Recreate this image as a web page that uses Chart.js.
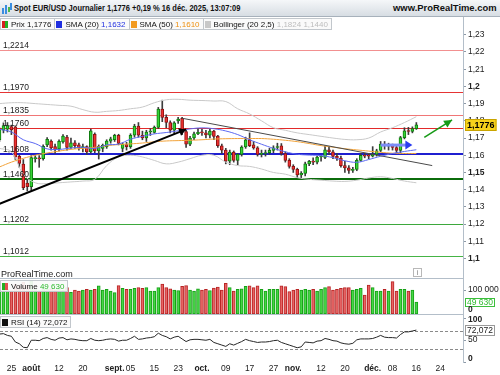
<!DOCTYPE html>
<html lang="fr">
<head>
<meta charset="UTF-8">
<title>Spot EUR/USD Journalier</title>
<script src="https://cdn.jsdelivr.net/npm/chart.js@4/dist/chart.umd.min.js"></script>
<style>
  body { margin: 0; background: #fff; font-family: "Liberation Sans", Arial, sans-serif; }
  #wrap { position: relative; width: 500px; height: 375px; overflow: hidden; background: #fff; }
  #wrap canvas { position: absolute; left: 0; }
  #title { position: absolute; left: 0; top: 0; width: 500px; height: 17px; box-sizing: border-box;
    background: linear-gradient(#f5f7f9, #d7dde3); border-bottom: 1px solid #a7b1bb; }
  #title b { position: absolute; top: 2px; font-size: 9.5px; color: #111; white-space: nowrap; }
  .lg { position: absolute; left: 0; display: flex; font-size: 8px; color: #111; }
  .lg span { display: flex; align-items: center; height: 10px; padding: 0 3px 0 1px; border: 1px solid #c2c7cc;
    background: rgba(250,250,250,.92); margin-right: -1px; white-space: nowrap; }
  .lg i { display: inline-block; width: 6px; height: 7px; margin-right: 3px; }
  .sep { position: absolute; background: #b3bec9; }
  .txt { position: absolute; font-size: 9px; color: #222; white-space: nowrap; }
</style>
</head>
<body>
<div id="wrap">
  <div id="title">
    <svg style="position:absolute;left:2px;top:3px" width="10" height="11">
      <rect x="0" y="5" width="2" height="6" fill="#3a8de0"/><rect x="3" y="2" width="2" height="9" fill="#3a8de0"/>
      <rect x="6" y="4" width="2" height="5" fill="#4cb84c"/><rect x="8" y="0" width="2" height="7" fill="#3a8de0"/>
    </svg>
    <b style="left:14px;transform-origin:left center" data-w="226">Spot EUR/USD Journalier 1,1776 +0,19 % 16 déc. 2025, 13:07:09</b>
    <b style="right:3px;transform-origin:right center" data-w="104">www.ProRealTime.com</b>
  </div>

  <canvas id="price" width="500" height="261" style="top:17px"></canvas>
  <canvas id="vol" width="500" height="36" style="top:278px"></canvas>
  <canvas id="rsi" width="500" height="62" style="top:314px"></canvas>

  <div class="sep" style="left:0;top:278px;width:463px;height:1px"></div>
  <div class="sep" style="left:0;top:314px;width:463px;height:1px"></div>
  <div class="sep" style="left:463px;top:17px;width:1px;height:346px"></div>

  <div class="lg" style="top:18px" id="legTop"></div>
  <div class="lg" style="top:280px" id="legVol"></div>
  <div class="lg" style="top:316px" id="legRsi"></div>

  <div class="txt" style="left:1px;top:269px">ProRealTime.com</div>
  <div style="position:absolute;left:413px;top:268px;width:7px;height:7px;border:1px solid #b8b8b8;font-size:7px;line-height:7px;text-align:center;color:#777">i</div>
</div>

<script>
// trading days (weekdays) shown on the chart
const firstDay = '2025-07-22';
const lastDay = '2025-12-16';

const opens = [1.1690,1.1745,1.1752,1.1766,1.1765,1.1594,1.1548,1.1438,1.1418,1.1580,
  1.1585,1.1580,1.1660,1.1682,1.1650,1.1637,1.1678,1.1705,1.1645,1.1672,
  1.1660,1.1643,1.1650,1.1620,1.1722,1.1625,1.1640,1.1650,1.1682,1.1690,
  1.1715,1.1640,1.1662,1.1650,1.1716,1.1770,1.1716,1.1700,1.1735,1.1733,
  1.1762,1.1868,1.1820,1.1790,1.1745,1.1800,1.1815,1.1738,1.1665,1.1700,
  1.1725,1.1733,1.1730,1.1716,1.1740,1.1712,1.1655,1.1630,1.1565,1.1618,
  1.1570,1.1605,1.1648,1.1690,1.1660,1.1643,1.1605,1.1610,1.1615,1.1628,
  1.1645,1.1655,1.1610,1.1570,1.1535,1.1518,1.1485,1.1495,1.1550,1.1565,
  1.1560,1.1590,1.1588,1.1632,1.1620,1.1593,1.1583,1.1540,1.1527,1.1512,
  1.1518,1.1570,1.1600,1.1598,1.1595,1.1605,1.1628,1.1665,1.1653,1.1653,
  1.1645,1.1628,1.1702,1.1742,1.1738,1.1755];
const highs = [1.1760,1.1788,1.1790,1.1775,1.1771,1.1600,1.1575,1.1462,1.1598,1.1598,
  1.1598,1.1660,1.1702,1.1690,1.1665,1.1690,1.1720,1.1715,1.1700,1.1685,
  1.1670,1.1665,1.1655,1.1752,1.1730,1.1660,1.1665,1.1690,1.1705,1.1722,
  1.1722,1.1672,1.1675,1.1725,1.1780,1.1790,1.1740,1.1745,1.1755,1.1770,
  1.1878,1.1920,1.1835,1.1800,1.1795,1.1820,1.1820,1.1745,1.1710,1.1735,
  1.1755,1.1750,1.1745,1.1750,1.1745,1.1715,1.1665,1.1640,1.1630,1.1625,
  1.1610,1.1655,1.1705,1.1730,1.1680,1.1650,1.1630,1.1630,1.1640,1.1655,
  1.1670,1.1668,1.1620,1.1580,1.1545,1.1525,1.1505,1.1560,1.1570,1.1585,
  1.1595,1.1600,1.1655,1.1650,1.1630,1.1610,1.1595,1.1565,1.1540,1.1530,
  1.1580,1.1610,1.1612,1.1610,1.1650,1.1635,1.1680,1.1680,1.1670,1.1665,
  1.1655,1.1710,1.1760,1.1762,1.1765,1.1790];
const lows = [1.1680,1.1730,1.1735,1.1720,1.1575,1.1530,1.1400,1.1392,1.1395,1.1560,
  1.1530,1.1572,1.1650,1.1630,1.1610,1.1625,1.1670,1.1630,1.1640,1.1640,
  1.1630,1.1620,1.1605,1.1612,1.1615,1.1578,1.1620,1.1640,1.1670,1.1680,
  1.1660,1.1620,1.1630,1.1640,1.1705,1.1705,1.1690,1.1680,1.1715,1.1728,
  1.1755,1.1795,1.1760,1.1730,1.1725,1.1785,1.1720,1.1645,1.1655,1.1690,
  1.1720,1.1715,1.1700,1.1700,1.1690,1.1645,1.1610,1.1550,1.1545,1.1560,
  1.1545,1.1595,1.1640,1.1650,1.1635,1.1595,1.1590,1.1595,1.1605,1.1615,
  1.1630,1.1600,1.1560,1.1525,1.1500,1.1470,1.1468,1.1480,1.1540,1.1545,
  1.1550,1.1565,1.1580,1.1605,1.1580,1.1570,1.1530,1.1500,1.1495,1.1500,
  1.1510,1.1565,1.1585,1.1580,1.1590,1.1595,1.1620,1.1635,1.1630,1.1630,
  1.1615,1.1615,1.1695,1.1720,1.1730,1.1750];
const closes = [1.1750,1.1773,1.1772,1.1748,1.1590,1.1552,1.1412,1.1418,1.1586,1.1585,
  1.1578,1.1652,1.1692,1.1642,1.1632,1.1681,1.1711,1.1645,1.1672,1.1655,
  1.1643,1.1650,1.1620,1.1742,1.1625,1.1652,1.1658,1.1682,1.1696,1.1715,
  1.1668,1.1665,1.1650,1.1716,1.1770,1.1716,1.1700,1.1735,1.1738,1.1762,
  1.1868,1.1820,1.1790,1.1745,1.1788,1.1810,1.1738,1.1665,1.1700,1.1725,
  1.1733,1.1730,1.1718,1.1740,1.1710,1.1655,1.1630,1.1565,1.1618,1.1570,
  1.1605,1.1648,1.1690,1.1655,1.1643,1.1605,1.1610,1.1615,1.1628,1.1643,
  1.1650,1.1610,1.1570,1.1535,1.1518,1.1485,1.1495,1.1550,1.1565,1.1560,
  1.1590,1.1592,1.1632,1.1620,1.1593,1.1583,1.1540,1.1527,1.1512,1.1518,
  1.1570,1.1600,1.1595,1.1595,1.1605,1.1625,1.1665,1.1655,1.1655,1.1645,
  1.1628,1.1702,1.1742,1.1738,1.1755,1.1776];
const volumes = [112000,108000,104000,98000,125000,118000,132000,120000,136000,104000,
  98000,110000,103000,106000,101000,108000,100000,110000,90000,100000,
  96000,100000,103000,100000,103000,117000,100000,103000,96000,89000,
  118000,107000,103000,103000,107000,110000,107000,110000,96000,96000,
  110000,125000,110000,105000,100000,98000,115000,118000,100000,96000,
  105000,100000,103000,98000,108000,112000,100000,128000,110000,95000,
  103000,105000,115000,117000,110000,117000,103000,96000,103000,103000,
  103000,117000,114000,93000,100000,103000,100000,103000,100000,103000,
  96000,103000,110000,114000,100000,103000,107000,110000,110000,100000,
  103000,107000,79000,121000,110000,96000,96000,103000,96000,135000,
  96000,103000,103000,96000,100000,49630];
const rsi = [63,64,60,58,45,41,33,32,49,49,48,53,55,51,49,54,55,50,52,51,
  49,48,48,53,49,48,49,51,52,51,47,49,49,53,58,51,52,54,55,57,
  65,60,57,52,56,58,52,46,50,51,51,50,49,51,44,41,38,35,41,38,
  42,46,51,48,46,44,45,45,46,48,49,44,41,38,35,32,34,45,44,43,
  47,48,53,51,48,47,43,41,40,42,50,52,52,52,53,56,60,56,55,55,
  54,62,68,68,70,72.072];

// indicator lines, read every third session
const lineIdx = [0,3,6,9,12,15,18,21,24,27,30,33,36,39,42,45,48,51,54,57,60,63,66,69,72,75,78,81,84,87,90,93,96,99,102,105];
const sma20 = [1.1751,1.1735,1.1690,1.1668,1.1637,1.1634,1.1642,1.1646,1.1640,1.1660,1.1665,1.1693,
  1.1710,1.1724,1.1732,1.1742,1.1753,1.1759,1.1754,1.1741,1.1720,1.1690,1.1664,1.1640,
  1.1620,1.1606,1.1601,1.1598,1.1586,1.1568,1.1559,1.1575,1.1594,1.1610,1.1622,1.1632];
const sma50 = [1.1532,1.1560,1.1582,1.1600,1.1613,1.1624,1.1634,1.1640,1.1646,1.1655,1.1662,1.1666,
  1.1671,1.1678,1.1683,1.1685,1.1687,1.1690,1.1694,1.1696,1.1697,1.1697,1.1697,1.1693,
  1.1687,1.1679,1.1668,1.1656,1.1647,1.1638,1.1631,1.1624,1.1617,1.1612,1.1610,1.1610];
const bbUp = [1.1900,1.1905,1.1905,1.1900,1.1895,1.1890,1.1885,1.1865,1.1850,1.1855,1.1860,1.1870,
  1.1880,1.1905,1.1922,1.1925,1.1920,1.1918,1.1915,1.1912,1.1870,1.1840,1.1800,1.1760,
  1.1745,1.1730,1.1720,1.1710,1.1700,1.1692,1.1690,1.1700,1.1735,1.1760,1.1790,1.1824];
const bbLow = [1.1640,1.1620,1.1490,1.1440,1.1435,1.1440,1.1445,1.1450,1.1460,1.1540,1.1590,1.1600,
  1.1590,1.1570,1.1550,1.1560,1.1580,1.1600,1.1600,1.1560,1.1540,1.1535,1.1520,1.1500,
  1.1490,1.1470,1.1460,1.1455,1.1450,1.1448,1.1455,1.1468,1.1475,1.1465,1.1450,1.1440];

// drawn objects
const levels = [1.2214, 1.1970, 1.1835, 1.1760, 1.1608, 1.1460, 1.1202, 1.1012];
const upTrend = [['2025-07-22', 1.1318], ['2025-09-25', 1.1750]];
const downTrend = [['2025-09-24', 1.1815], ['2025-12-22', 1.1540]];
const blueArrow = [['2025-12-03', 1.1659], ['2025-12-15', 1.1659]];
const greenArrow = [['2025-12-18', 1.1704], ['2025-12-29', 1.1805]];

// date axis
const tickDates = ['2025-07-25','2025-08-01','2025-08-12','2025-08-20','2025-09-01','2025-09-05','2025-09-15',
  '2025-09-23','2025-10-01','2025-10-09','2025-10-17','2025-10-27','2025-11-03','2025-11-12','2025-11-20',
  '2025-12-01','2025-12-08','2025-12-16','2025-12-24'];
const tickText = ['25','août','12','20','sept.','05','15','23','oct.','09','17','27','nov.','12','20','déc.','08','16','24'];

// ---- helpers
const levelColors = ['#f29090','#e53434','#f07676','#e22a2a','#1f1fd0','#0b6c0b','#3da83d','#45b445'];
const levelWidths = [1, 1, 1, 1, 2, 2, 1, 1];
const FONT = '"Liberation Sans", Arial, sans-serif';
const X_MIN = 0.128, X_MAX = 116.75, AXIS_W = 37;

function dayIndex(s) {
  const d0 = new Date(firstDay + 'T00:00:00Z'), d = new Date(s + 'T00:00:00Z');
  let n = 0;
  for (const t = new Date(d0); t < d; t.setUTCDate(t.getUTCDate() + 1)) {
    const w = t.getUTCDay();
    if (w !== 0 && w !== 6) n++;
  }
  return n;
}
const nDays = dayIndex(lastDay) + 1;
const days = Array.from({length: nDays}, (_, i) => i);
const isUp = i => closes[i] >= opens[i];
const comma = (v, d) => v.toFixed(d).replace('.', ',');
const spaced = n => String(Math.round(n)).replace(/\B(?=(\d{3})+(?!\d))/g, ' ');
const pts = arr => arr.map(([d, v]) => ({x: dayIndex(d), y: v}));
const last = nDays - 1;
const boldTicks = [1.1, 1.15, 1.2];

const xAxis = {type: 'linear', min: X_MIN, max: X_MAX, offset: false, display: false, grid: {offset: false}};

function arrowHead(ctx, x0, y0, x1, y1, len, wid, color) {
  const a = Math.atan2(y1 - y0, x1 - x0);
  ctx.save();
  ctx.fillStyle = color;
  ctx.beginPath();
  ctx.moveTo(x1, y1);
  ctx.lineTo(x1 - len * Math.cos(a) + wid * Math.sin(a), y1 - len * Math.sin(a) - wid * Math.cos(a));
  ctx.lineTo(x1 - len * Math.cos(a) - wid * Math.sin(a), y1 - len * Math.sin(a) + wid * Math.cos(a));
  ctx.closePath();
  ctx.fill();
  ctx.restore();
}

function valueTag(ctx, area, py, text, bg, border, color, bold, h) {
  ctx.save();
  ctx.font = (bold ? 'bold 9px ' : '8.5px ') + FONT;
  const w = ctx.measureText(text).width + 4;
  const x = area.right + 2;
  const top = Math.round(py - h / 2);
  ctx.fillStyle = bg;
  ctx.fillRect(x, top, w, h);
  ctx.strokeStyle = border;
  ctx.strokeRect(x + 0.5, top + 0.5, w - 1, h - 1);
  ctx.fillStyle = color;
  ctx.textBaseline = 'middle';
  ctx.fillText(text, x + 2, top + h / 2 + 0.5);
  ctx.restore();
}

function sideLabels(ctx, area, height, scale, list) {
  ctx.save();
  ctx.textBaseline = 'middle';
  ctx.fillStyle = '#222';
  ctx.strokeStyle = '#8d99a6';
  list.forEach(([v, text, bold]) => {
    const py = scale.getPixelForValue(v);
    const cy = Math.min(Math.max(py, 6), height - 4);
    ctx.beginPath();
    ctx.moveTo(area.right, Math.round(py) + 0.5); ctx.lineTo(area.right + 3, Math.round(py) + 0.5);
    ctx.stroke();
    ctx.font = (bold ? 'bold ' : '') + '8.5px ' + FONT;
    ctx.fillText(text, area.right + 5, cy);
  });
  ctx.restore();
}

// ---- price panel
const pricePlugin = {
  id: 'priceDeco',
  beforeDatasetsDraw(chart) {
    const {ctx, chartArea: a, scales: {y}} = chart;
    ctx.save();
    levels.forEach((v, i) => {
      const w = levelWidths[i];
      const py = Math.round(y.getPixelForValue(v)) + (w % 2 ? 0.5 : 0);
      ctx.strokeStyle = levelColors[i];
      ctx.lineWidth = w;
      ctx.beginPath(); ctx.moveTo(a.left, py); ctx.lineTo(a.right, py); ctx.stroke();
    });
    ctx.restore();
  },
  afterDatasetsDraw(chart) {
    const {ctx, chartArea: a, scales: {x, y}} = chart;
    ctx.save();
    ctx.font = '8.5px ' + FONT;
    ctx.fillStyle = '#222';
    ctx.textBaseline = 'alphabetic';
    levels.forEach(v => ctx.fillText(comma(v, 4), 3, Math.round(y.getPixelForValue(v)) - 2));
    ctx.restore();
    const head = (pairs, len, wid, color) => {
      const p = pts(pairs);
      arrowHead(ctx, x.getPixelForValue(p[0].x), y.getPixelForValue(p[0].y),
        x.getPixelForValue(p[1].x), y.getPixelForValue(p[1].y), len, wid, color);
    };
    head(upTrend, 7, 4, '#000');
    head(blueArrow, 7, 4.5, '#2a3cf0');
    head(greenArrow, 8, 4, '#169a16');
    valueTag(ctx, a, y.getPixelForValue(closes[last]), comma(closes[last], 4), '#f6d21c', '#c9a400', '#000', true, 12);
  }
};

new Chart(document.getElementById('price'), {
  type: 'bar',
  data: {
    datasets: [
      {type: 'line', data: pts(greenArrow), borderColor: '#169a16', borderWidth: 1.5, pointRadius: 0, order: 0},
      {type: 'line', data: pts(blueArrow).map((p, i) => i ? {x: p.x - 1.5, y: p.y} : p), borderColor: '#7d8cf7', borderWidth: 3, pointRadius: 0, order: 0},
      {type: 'line', data: pts(upTrend), borderColor: '#000', borderWidth: 2, pointRadius: 0, order: 0},
      {type: 'line', data: pts(downTrend), borderColor: '#4a4a4a', borderWidth: 1, pointRadius: 0, order: 0},
      {type: 'line', data: lineIdx.map((k, j) => ({x: k, y: sma20[j]})), borderColor: '#5c68f2', borderWidth: 1, pointRadius: 0, tension: 0.4, order: 1},
      {type: 'line', data: lineIdx.map((k, j) => ({x: k, y: sma50[j]})), borderColor: '#f2a33a', borderWidth: 1, pointRadius: 0, tension: 0.4, order: 1},
      {type: 'line', data: lineIdx.map((k, j) => ({x: k, y: bbUp[j]})), borderColor: '#c9c9c9', borderWidth: 1, pointRadius: 0, tension: 0.4, order: 1},
      {type: 'line', data: lineIdx.map((k, j) => ({x: k, y: bbLow[j]})), borderColor: '#c9c9c9', borderWidth: 1, pointRadius: 0, tension: 0.4, order: 1},
      {type: 'bar', data: days.map(i => ({x: i, y: [opens[i], closes[i]]})),
        backgroundColor: days.map(i => isUp(i) ? '#36d436' : '#ee3030'),
        borderColor: days.map(i => isUp(i) ? '#0f7a0f' : '#8c1212'),
        borderWidth: 1, borderSkipped: false, barThickness: 3, minBarLength: 1, grouped: false, order: 2},
      {type: 'bar', data: days.map(i => ({x: i, y: [lows[i], highs[i]]})),
        backgroundColor: '#3c3c3c', barThickness: 1, grouped: false, order: 3}
    ]
  },
  options: {
    responsive: false, animation: false, events: [],
    layout: {padding: 0},
    plugins: {legend: {display: false}, tooltip: {enabled: false}},
    scales: {
      x: xAxis,
      y: {
        position: 'right', min: 1.0928, max: 1.2362,
        afterFit: s => { s.width = AXIS_W; },
        grid: {drawOnChartArea: false, tickLength: 3, color: '#8d99a6'},
        border: {display: false},
        ticks: {
          stepSize: 0.01, includeBounds: false, padding: 2, color: '#222',
          callback: v => comma(v, 2).replace(/0$/, ''),
          font: c => ({family: FONT, size: 8.5,
            weight: c && c.tick && boldTicks.some(b => Math.abs(c.tick.value - b) < 1e-6) ? 'bold' : 'normal'})
        }
      }
    }
  },
  plugins: [pricePlugin]
});

// ---- volume panel
new Chart(document.getElementById('vol'), {
  type: 'bar',
  data: {
    datasets: [{
      data: days.map(i => ({x: i, y: volumes[i]})),
      backgroundColor: days.map(i => isUp(i) ? '#45d645' : '#e86464'),
      borderColor: days.map(i => isUp(i) ? '#16a016' : '#b82424'),
      borderWidth: 1, borderSkipped: false, barThickness: 3, grouped: false
    }]
  },
  options: {
    responsive: false, animation: false, events: [],
    layout: {padding: {right: AXIS_W}},
    plugins: {legend: {display: false}, tooltip: {enabled: false}},
    scales: {x: xAxis, y: {display: false, min: 0, max: 150000}}
  },
  plugins: [{
    id: 'volDeco',
    afterDraw(chart) {
      const {ctx, chartArea: a, scales: {y}} = chart;
      valueTag(ctx, a, y.getPixelForValue(volumes[last]), spaced(volumes[last]), '#fff', '#3cbf3c', '#2dbb2d', false, 9);
      sideLabels(ctx, a, chart.height, y, [[100000, '100 000', false], [0, '0', true]]);
    }
  }]
});

// ---- RSI panel with date axis
new Chart(document.getElementById('rsi'), {
  type: 'line',
  data: {
    datasets: [{data: days.map(i => ({x: i, y: rsi[i]})), borderColor: '#262626', borderWidth: 1, pointRadius: 0}]
  },
  options: {
    responsive: false, animation: false, events: [],
    layout: {padding: {right: AXIS_W}},
    plugins: {legend: {display: false}, tooltip: {enabled: false}},
    scales: {
      x: {
        type: 'linear', min: X_MIN, max: X_MAX, offset: false,
        afterFit: s => { s.height = 13; },
        afterBuildTicks: s => { s.ticks = tickDates.map(d => ({value: dayIndex(d)})); },
        grid: {display: false, drawTicks: false},
        border: {display: false},
        ticks: {
          autoSkip: false, maxRotation: 0, padding: 1, color: '#222',
          callback: (v, i) => tickText[i],
          font: c => ({family: FONT, size: 8.5, weight: c && /\D/.test(tickText[c.index] || '') ? 'bold' : 'normal'})
        }
      },
      y: {display: false, min: -2.7, max: 108.6}
    }
  },
  plugins: [{
    id: 'rsiDeco',
    beforeDatasetsDraw(chart) {
      const {ctx, chartArea: a, scales: {y}} = chart;
      ctx.save();
      ctx.strokeStyle = '#8a8a8a';
      ctx.setLineDash([3, 2]);
      [70, 30].forEach(v => {
        const py = Math.round(y.getPixelForValue(v)) + 0.5;
        ctx.beginPath(); ctx.moveTo(a.left, py); ctx.lineTo(a.right, py); ctx.stroke();
      });
      ctx.restore();
    },
    afterDraw(chart) {
      const {ctx, chartArea: a, scales: {y}} = chart;
      sideLabels(ctx, a, a.bottom, y, [[100, '100', true], [50, '50', false], [0, '0', true]]);
      valueTag(ctx, a, y.getPixelForValue(rsi[last]), comma(rsi[last], 3), '#fff', '#999', '#222', false, 11);
    }
  }]
});

// ---- legends
const sq = c => `<i style="background:${c}"></i>`;
document.getElementById('legTop').innerHTML =
  `<span><i style="background:linear-gradient(90deg,#d42020 50%,#22b022 50%)"></i>Prix ${comma(closes[last], 4)}</span>` +
  `<span>${sq('#1f2ee0')}SMA (20)&nbsp;<b style="font-weight:normal;color:#2130e0">${comma(sma20[sma20.length - 1], 4)}</b></span>` +
  `<span>${sq('#f29a20')}SMA (50)&nbsp;<b style="font-weight:normal;color:#ee9010">${comma(sma50[sma50.length - 1], 4)}</b></span>` +
  `<span>${sq('#c8c8c8')}Bollinger (20 2,5)&nbsp;<b style="font-weight:normal;color:#bdbdbd">${comma(bbUp[bbUp.length - 1], 4)} ${comma(bbLow[bbLow.length - 1], 4)}</b></span>`;
document.getElementById('legVol').innerHTML =
  `<span><i style="background:linear-gradient(90deg,#22b022 50%,#e05050 50%)"></i>Volume&nbsp;<b style="font-weight:normal;color:#2dbb2d">${spaced(volumes[last])}</b></span>`;
document.getElementById('legRsi').innerHTML =
  `<span>${sq('#111')}RSI (14)&nbsp;${comma(rsi[last], 3)}</span>`;

// squeeze header texts horizontally to their measured widths
document.querySelectorAll('[data-w]').forEach(el => {
  el.style.transform = `scaleX(${(+el.dataset.w / el.offsetWidth).toFixed(3)})`;
});
</script>
</body>
</html>
